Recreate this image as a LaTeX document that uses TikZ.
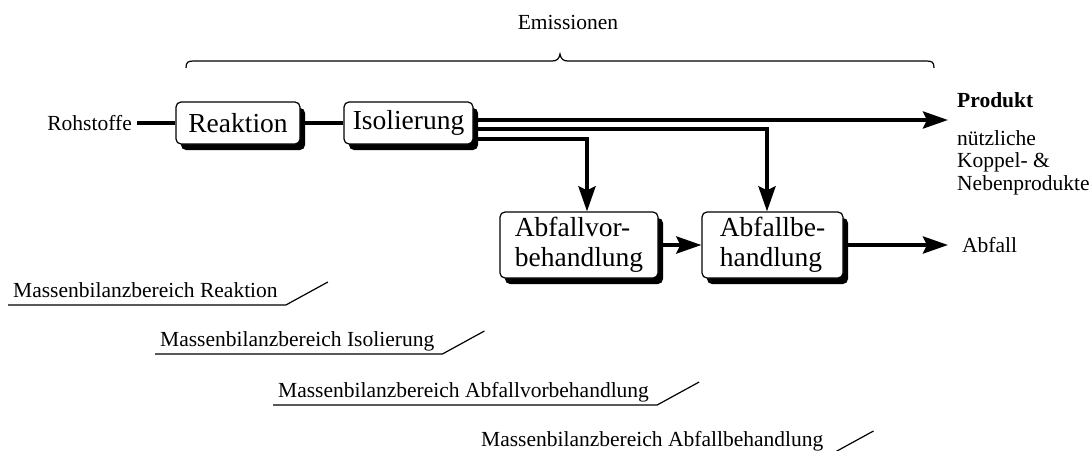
\documentclass[tikz,border=0pt]{standalone}
\usepackage{fontspec}
\setmainfont{Liberation Serif}
\newfontfamily\boxfont{Liberation Serif}
\usetikzlibrary{arrows.meta,shadows}
\begin{document}
\begin{tikzpicture}[x=1pt,y=-1pt,
  proc/.style={draw, line width=1.2pt, rounded corners=5pt, fill=white, inner sep=0pt,
    drop shadow={shadow xshift=5pt, shadow yshift=-6pt, fill=black, opacity=1},
    font=\boxfont\fontsize{27.5}{30}\selectfont, align=left},
  lbl/.style={inner sep=0pt, font=\rmfamily\fontsize{21.5}{22.5}\selectfont},
  flow/.style={line width=4pt},
  flowarrow/.style={flow, -{Stealth[length=25pt,width=17pt,inset=4pt]}},
  rule/.style={line width=1.2pt}]
\useasboundingbox (0,0) rectangle (1090,450);

% process boxes
\node[proc, minimum width=124pt, minimum height=42pt] (rea) at (238,123) {Reaktion};
\node[proc, minimum width=129pt, minimum height=42pt] (iso) at (408.5,123) {Isolierung};
\node[proc, minimum width=158pt, minimum height=66pt] (vor) at (579,245) {Abfallvor-\\behandlung};
\node[proc, minimum width=141pt, minimum height=66pt] (abf) at (772.5,245) {Abfallbe-\\handlung};

% inputs and outputs
\node[lbl, anchor=east, inner xsep=5pt] (roh) at (137,123) {Rohstoffe};
\node[lbl, anchor=base west, font=\rmfamily\fontsize{21.5}{22.5}\selectfont\bfseries] (prod) at (957,107) {Produkt};
\node[lbl, anchor=north west, align=left] (neben) at (957,130) {nützliche\\Koppel- \&\\Nebenprodukte};
\node[lbl, anchor=west] (abfall) at (962,245) {Abfall};
\coordinate (ptip) at (948,120);

% material flows
\draw[flow] (roh.east) -- (rea.west);
\draw[flow] (rea.east) -- (iso.west);
\draw[flowarrow] ([yshift=3pt]iso.east) -- (ptip);
\draw[flowarrow] ([yshift=-6pt]iso.east) -| ([xshift=-5.5pt]abf.north);
\draw[flowarrow] ([yshift=-16pt]iso.east) -| ([xshift=8pt]vor.north);
\draw[flowarrow] (vor.east) -- (abf.west);
\draw[flowarrow] (abf.east) -- ([xshift=-14pt]abfall.west);

% emissions brace
\node[lbl] (emi) at (568,22) {Emissionen};
\draw[rule] (186,68) .. controls (186,62) and (188,61) .. (194,61) -- (552,61)
  .. controls (557,61) and (559,59) .. (560,54)
  .. controls (561,59) and (563,61) .. (568,61) -- (926,61)
  .. controls (932,61) and (934,62) .. (934,68);

% mass balance regions
\node[lbl, anchor=base west] (mr) at (13,297) {Massenbilanzbereich Reaktion};
\node[lbl, anchor=base west] (mi) at (160,346) {Massenbilanzbereich Isolierung};
\node[lbl, anchor=base west] (mv) at (278,397) {Massenbilanzbereich Abfallvorbehandlung};
\node[lbl, anchor=base west] (mb) at (481,446) {Massenbilanzbereich Abfallbehandlung};
\foreach \m in {mr,mi,mv,mb}
  \draw[rule] ([xshift=-5pt,yshift=-8pt]\m.base west) -- ([xshift=8pt,yshift=-8pt]\m.base east) -- ++(42,-23);
\end{tikzpicture}
\end{document}
